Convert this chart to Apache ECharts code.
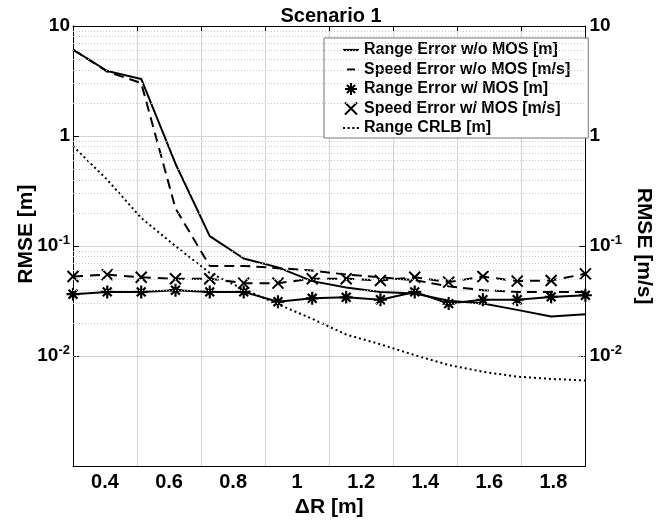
<!DOCTYPE html>
<html>
<head>
<meta charset="utf-8">
<script src="https://cdn.jsdelivr.net/npm/echarts@6/dist/echarts.min.js"></script>
<style>
html,body{margin:0;padding:0;background:#fff;}
#chart{width:662px;height:523px;}
</style>
</head>
<body>
<div id="chart"></div>
<script>
// ΔR values (16 samples)
var deltaR = [0.3, 0.407, 0.513, 0.62, 0.727, 0.833, 0.94, 1.047, 1.153, 1.26, 1.367, 1.473, 1.58, 1.687, 1.793, 1.9];
var rangeErrNoMOS = [6.1, 3.9, 3.3, 0.56, 0.123, 0.077, 0.064, 0.048, 0.042, 0.0383, 0.037, 0.0318, 0.030, 0.0263, 0.0229, 0.024];
var speedErrNoMOS = [6.1, 3.85, 3.03, 0.22, 0.066, 0.066, 0.063, 0.060, 0.055, 0.052, 0.049, 0.043, 0.0397, 0.0383, 0.0383, 0.0383];
var rangeErrMOS = [0.0365, 0.0383, 0.0383, 0.0397, 0.0383, 0.0383, 0.0312, 0.0335, 0.0342, 0.0325, 0.0383, 0.030, 0.0325, 0.0325, 0.0345, 0.0357];
var speedErrMOS = [0.0528, 0.055, 0.052, 0.0505, 0.0505, 0.046, 0.046, 0.0505, 0.0505, 0.0487, 0.052, 0.047, 0.0528, 0.048, 0.0487, 0.0559];
var rangeCRLB = [0.81, 0.40, 0.18, 0.10, 0.057, 0.0405, 0.0296, 0.0218, 0.0157, 0.0128, 0.0102, 0.0083, 0.0072, 0.0065, 0.0062, 0.0060];

var xLabelValues = [0.4, 0.6, 0.8, 1.0, 1.2, 1.4, 1.6, 1.8];
var seriesNames = ['Range Error w/o MOS [m]', 'Speed Error w/o MOS [m/s]', 'Range Error w/ MOS [m]', 'Speed Error w/ MOS [m/s]', 'Range CRLB [m]'];
var minorGridValues = [];
[0.001, 0.01, 0.1, 1].forEach(function (d) { for (var m = 2; m <= 9; m++) minorGridValues.push(+(m * d).toPrecision(3)); });

var FONT = '"Liberation Sans", Arial, Helvetica, sans-serif';
var starPath = 'path://M5,0L5,10M0,5L10,5M1.6,1.6L8.4,8.4M8.4,1.6L1.6,8.4';
var crossPath = 'path://M0,0L10,10M10,0L0,10';
var solidIcon = 'path://M0,0H16V2.2H0Z';
var dashIcon = 'path://M0,0H0.01V2.2H0ZM4,0H12V2.2H4ZM15.99,0H16V2.2H15.99Z';
var dotIcon = 'path://M0,0H2V2H0ZM4.5,0H6.5V2H4.5ZM9,0H11V2H9ZM13.5,0H15.5V2H13.5Z';

function pairs(ys) { return ys.map(function (y, i) { return [deltaR[i], y]; }); }

function logLabel(v) {
  if (v >= 1) return '{b|' + Math.round(v) + '}';
  var e = Math.round(Math.log10(v));
  return '{b|10}{s|' + e + '}';
}
var labelRich = {
  b: { fontFamily: FONT, fontWeight: 'bold', fontSize: 19, color: '#000' },
  s: { fontFamily: FONT, fontWeight: 'bold', fontSize: 13, color: '#000', padding: [0, 0, 11, 0] }
};

var chart = echarts.init(document.getElementById('chart'), null, { renderer: 'canvas' });
chart.setOption({
  animation: false,
  backgroundColor: '#fff',
  title: {
    text: 'Scenario 1', left: 'center', top: 1,
    textStyle: { fontFamily: FONT, fontWeight: 'bold', fontSize: 20, color: '#000' }
  },
  grid: { left: 73, right: 71, top: 26, bottom: 49, containLabel: false },
  legend: {
    orient: 'vertical', left: 324, top: 38,
    padding: [4, 18, 2, 19], itemGap: 3.5,
    itemWidth: 16, itemHeight: 12,
    backgroundColor: '#fff', borderColor: '#777', borderWidth: 1,
    textStyle: { fontFamily: FONT, fontWeight: 'bold', fontSize: 16, color: '#000', lineHeight: 16 },
    data: [
      { name: seriesNames[0], icon: solidIcon },
      { name: seriesNames[1], icon: dashIcon },
      { name: seriesNames[2], icon: starPath },
      { name: seriesNames[3], icon: crossPath },
      { name: seriesNames[4], icon: dotIcon }
    ]
  },
  xAxis: [
    {
      type: 'value', position: 'bottom', min: 0.3, max: 1.9,
      axisLine: { show: true, lineStyle: { color: '#000', width: 1 } },
      axisTick: { show: false },
      splitLine: { show: false },
      axisLabel: {
        customValues: xLabelValues, margin: 6,
        fontFamily: FONT, fontWeight: 'bold', fontSize: 20, color: '#000',
        formatter: function (v) { return String(+v.toFixed(1)); }
      },
      name: 'ΔR [m]', nameLocation: 'middle', nameGap: 28,
      nameTextStyle: { fontFamily: FONT, fontWeight: 'bold', fontSize: 21, color: '#000' }
    },
    {
      // grid-line axis (vertical lines at 0.3, 0.5, ... 1.9 of the main axis)
      type: 'value', position: 'top', min: 0, max: 1.6, interval: 0.2,
      axisLine: { show: true, lineStyle: { color: '#000', width: 1 } },
      axisTick: { show: true, inside: true, length: 5, lineStyle: { color: '#000' } },
      axisLabel: { show: false },
      splitLine: { show: true, lineStyle: { color: '#d4d4d4', width: 1 } }
    }
  ],
  yAxis: [
    {
      type: 'log', logBase: 10, min: 0.001, max: 10, position: 'left',
      axisLine: { show: true, lineStyle: { color: '#000', width: 1 } },
      axisTick: { show: true, inside: true, length: 6, lineStyle: { color: '#000' } },
      splitLine: { show: true, lineStyle: { color: '#d4d4d4', width: 1 } },
      axisLabel: { showMinLabel: false, margin: 3, formatter: logLabel, rich: labelRich },
      name: 'RMSE [m]', nameLocation: 'middle', nameGap: 36, nameRotate: 90, nameMoveOverlap: false,
      nameTextStyle: { fontFamily: FONT, fontWeight: 'bold', fontSize: 21, color: '#000', padding: [0, 0, 0, 24] }
    },
    {
      type: 'log', logBase: 10, min: 0.001, max: 10, position: 'right',
      axisLine: { show: true, lineStyle: { color: '#000', width: 1 } },
      axisTick: { show: true, inside: true, length: 6, lineStyle: { color: '#000' } },
      splitLine: { show: false },
      axisLabel: { showMinLabel: false, margin: 4, formatter: logLabel, rich: labelRich },
      name: 'RMSE [m/s]', nameLocation: 'middle', nameGap: 33, nameRotate: -90,
      nameTextStyle: { fontFamily: FONT, fontWeight: 'bold', fontSize: 21, color: '#000' }
    }
  ],
  series: [
    {
      name: '_minorGrid', type: 'line', data: [], xAxisIndex: 0, yAxisIndex: 0, z: 0, silent: true,
      markLine: {
        silent: true, symbol: ['none', 'none'], label: { show: false },
        lineStyle: { color: '#c8c8c8', width: 1, type: [1, 2] },
        emphasis: { disabled: true },
        data: minorGridValues.map(function (v) { return { yAxis: v }; })
      }
    },
    {
      name: seriesNames[0], type: 'line', data: pairs(rangeErrNoMOS), xAxisIndex: 0, yAxisIndex: 0,
      showSymbol: false, symbol: 'none',
      lineStyle: { color: '#000', width: 2, type: 'solid' }, itemStyle: { color: '#000' }
    },
    {
      name: seriesNames[1], type: 'line', data: pairs(speedErrNoMOS), xAxisIndex: 0, yAxisIndex: 1,
      showSymbol: false, symbol: 'none',
      lineStyle: { color: '#000', width: 2, type: [10, 6] }, itemStyle: { color: '#000' }
    },
    {
      name: seriesNames[2], type: 'line', data: pairs(rangeErrMOS), xAxisIndex: 0, yAxisIndex: 0,
      symbol: starPath, symbolSize: 13, showAllSymbol: true,
      lineStyle: { color: '#000', width: 2, type: 'solid' },
      itemStyle: { color: '#000', borderColor: '#000', borderWidth: 2.2 }
    },
    {
      name: seriesNames[3], type: 'line', data: pairs(speedErrMOS), xAxisIndex: 0, yAxisIndex: 1,
      symbol: crossPath, symbolSize: 11, showAllSymbol: true,
      lineStyle: { color: '#000', width: 2, type: [10, 7] },
      itemStyle: { color: '#000', borderColor: '#000', borderWidth: 2 }
    },
    {
      name: seriesNames[4], type: 'line', data: pairs(rangeCRLB), xAxisIndex: 0, yAxisIndex: 0,
      showSymbol: false, symbol: 'none',
      lineStyle: { color: '#000', width: 2, type: [2, 3] }, itemStyle: { color: '#000' }
    }
  ]
});
</script>
</body>
</html>
